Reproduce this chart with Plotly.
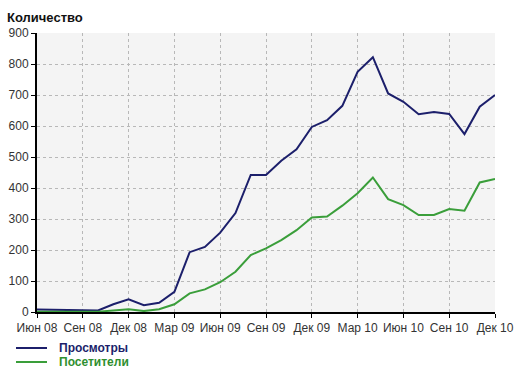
import plotly.graph_objects as go

months = list(range(31))  # Jun 08 .. Dec 10
tick_labels = ["Июн 08", "Сен 08", "Дек 08", "Мар 09", "Июн 09", "Сен 09",
               "Дек 09", "Мар 10", "Июн 10", "Сен 10", "Дек 10"]
tick_positions = list(range(0, 31, 3))

series_names = ["Просмотры", "Посетители"]
views = [8, 7, 6, 5, 5, 25, 41, 22, 30, 65, 193, 210, 256, 319, 442, 442,
         488, 525, 597, 619, 665, 775, 822, 705, 678, 638, 645, 639, 574, 662, 700]
visitors = [1, 1, 1, 1, 1, 5, 9, 3, 9, 25, 60, 73, 96, 130, 184, 205,
            232, 264, 305, 308, 343, 383, 434, 364, 345, 313, 313, 332, 327, 418, 429]

line_colors = ["#1c1f6b", "#3a9e3a"]
text_colors = ["#1c1f6b", "#2f8f2f"]

fig = go.Figure()
for name, vals, col in zip(series_names, [views, visitors], line_colors):
    fig.add_trace(go.Scatter(x=months, y=vals, mode="lines",
                             line=dict(color=col, width=2), name=name))

W, H = 515, 370
ml, mr, mt, mb = 37, 20, 33, 58
pw, ph = W - ml - mr, H - mt - mb

def px_x(p):  # p = screen pixel
    return (p - ml) / pw

def px_y(p):
    return (H - mb - p) / ph

shapes = []
annotations = [dict(text="<b>Количество</b>", xref="paper", yref="paper",
                    x=px_x(5), y=px_y(8), xanchor="left", yanchor="top",
                    showarrow=False, font=dict(size=13, color="#111"))]
for i, (name, lc, tc) in enumerate(zip(series_names, line_colors, text_colors)):
    yy = 348 + 14 * i
    shapes.append(dict(type="line", xref="paper", yref="paper",
                       x0=px_x(16), x1=px_x(47), y0=px_y(yy), y1=px_y(yy),
                       line=dict(color=lc, width=2)))
    annotations.append(dict(text=f"<b>{name}</b>", xref="paper", yref="paper",
                            x=px_x(57), y=px_y(yy), xanchor="left", yanchor="middle",
                            showarrow=False, font=dict(size=12, color=tc)))

fig.update_layout(
    width=W, height=H,
    margin=dict(l=ml, r=mr, t=mt, b=mb, autoexpand=False),
    paper_bgcolor="white",
    plot_bgcolor="#f4f4f4",
    font=dict(family="Liberation Sans, Arial, sans-serif", size=11, color="#333"),
    showlegend=False,
    shapes=shapes,
    annotations=annotations,
)
fig.update_xaxes(
    range=[0, 30], tickvals=tick_positions, ticktext=tick_labels,
    showgrid=True, gridcolor="#b8b8b8", griddash="dot", gridwidth=1,
    showline=True, linecolor="black", linewidth=2,
    ticks="outside", ticklen=4, tickcolor="black", zeroline=False,
    tickfont=dict(size=12, color="#333"), automargin=False,
    ticklabeloverflow="allow")
fig.update_yaxes(
    range=[0, 900], dtick=100, tick0=0,
    showgrid=True, gridcolor="#b8b8b8", griddash="dot", gridwidth=1,
    showline=True, linecolor="black", linewidth=2,
    ticks="outside", ticklen=4, tickcolor="black", zeroline=False,
    tickfont=dict(size=12, color="#333"), automargin=False,
    ticklabeloverflow="allow")

fig.write_html(
    "out.html",
    config={"displayModeBar": False},
    post_script="document.body.style.margin='0';document.body.style.overflow='hidden';",
)
